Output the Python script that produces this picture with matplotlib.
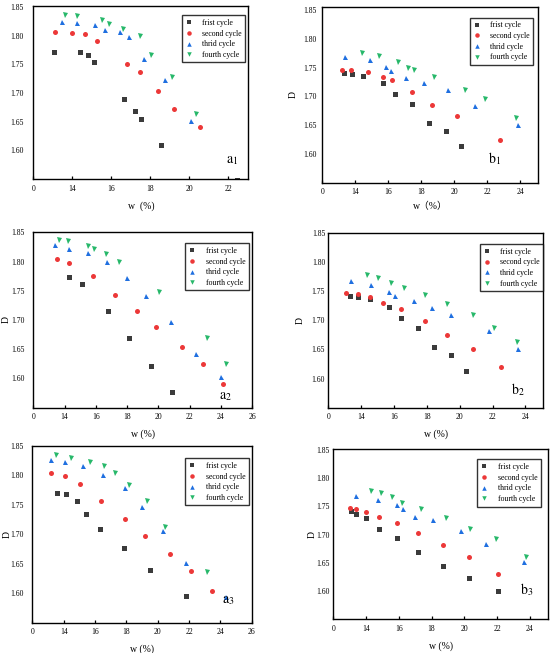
import matplotlib
matplotlib.use("Agg")
import matplotlib.pyplot as plt

plt.rcParams['font.family'] = ['Liberation Serif', 'Noto Sans CJK SC']
plt.rcParams['mathtext.fontset'] = 'stix'

SERIES = ["frist cycle", "second cycle", "thrid cycle", "fourth cycle"]

# ---- panel a1 ----
a1_w1 = [13.06, 14.37, 14.79, 15.10, 16.66, 17.19, 17.53, 18.57, 22.47]
a1_d1 = [1.771, 1.771, 1.766, 1.755, 1.690, 1.668, 1.654, 1.609, 1.549]
a1_w2 = [13.11, 13.97, 14.67, 15.25, 16.80, 17.48, 18.37, 19.22, 20.53]
a1_d2 = [1.806, 1.805, 1.803, 1.791, 1.751, 1.737, 1.704, 1.673, 1.640]
a1_w3 = [13.48, 14.26, 15.15, 15.68, 16.44, 16.90, 17.69, 18.77, 20.10]
a1_d3 = [1.824, 1.823, 1.819, 1.810, 1.807, 1.798, 1.759, 1.723, 1.652]
a1_w4 = [13.63, 14.26, 15.51, 15.90, 16.61, 17.46, 18.04, 19.10, 20.34]
a1_d4 = [1.836, 1.835, 1.827, 1.820, 1.812, 1.800, 1.766, 1.728, 1.664]

# ---- panel b1 ----
b1_w1 = [13.31, 13.82, 14.48, 15.66, 16.40, 17.45, 18.44, 19.47, 20.38]
b1_d1 = [1.741, 1.739, 1.736, 1.723, 1.704, 1.686, 1.654, 1.640, 1.613]
b1_w2 = [13.21, 13.74, 14.77, 15.68, 16.22, 17.43, 18.63, 20.16, 22.75]
b1_d2 = [1.746, 1.746, 1.743, 1.733, 1.728, 1.708, 1.685, 1.666, 1.625]
b1_w3 = [13.39, 14.89, 15.84, 16.18, 17.07, 18.16, 19.64, 21.27, 23.84]
b1_d3 = [1.768, 1.763, 1.751, 1.744, 1.732, 1.724, 1.711, 1.684, 1.651]
b1_w4 = [14.42, 15.45, 16.59, 17.17, 17.56, 18.77, 20.65, 21.84, 23.72]
b1_d4 = [1.775, 1.771, 1.760, 1.750, 1.746, 1.733, 1.712, 1.696, 1.663]

# ---- panel a2 ----
a2_w1 = [14.31, 15.13, 16.75, 18.12, 19.52, 20.87]
a2_d1 = [1.774, 1.761, 1.715, 1.669, 1.622, 1.576]
a2_w2 = [13.52, 14.31, 15.79, 17.22, 18.66, 19.84, 21.53, 22.86, 24.12]
a2_d2 = [1.805, 1.798, 1.776, 1.743, 1.715, 1.688, 1.654, 1.625, 1.590]
a2_w3 = [13.41, 14.31, 15.51, 16.71, 18.02, 19.22, 20.82, 22.41, 23.99]
a2_d3 = [1.829, 1.822, 1.814, 1.799, 1.772, 1.741, 1.697, 1.641, 1.603]
a2_w4 = [13.63, 14.25, 15.49, 15.90, 16.63, 17.48, 20.03, 23.11, 24.36]
a2_d4 = [1.837, 1.835, 1.827, 1.821, 1.812, 1.799, 1.747, 1.669, 1.624]

# ---- panel b2 ----
b2_w1 = [13.33, 13.81, 14.51, 15.68, 16.42, 17.45, 18.45, 19.50, 20.40]
b2_d1 = [1.741, 1.739, 1.736, 1.723, 1.704, 1.687, 1.654, 1.640, 1.613]
b2_w2 = [13.07, 13.79, 14.53, 15.30, 16.40, 17.91, 19.20, 20.82, 22.51]
b2_d2 = [1.747, 1.745, 1.739, 1.730, 1.719, 1.698, 1.675, 1.650, 1.620]
b2_w3 = [13.35, 14.61, 15.70, 16.06, 17.21, 18.31, 19.46, 21.81, 23.54]
b2_d3 = [1.767, 1.761, 1.749, 1.741, 1.733, 1.721, 1.709, 1.681, 1.650]
b2_w4 = [14.35, 15.00, 15.82, 16.60, 17.91, 19.20, 20.80, 22.09, 23.50]
b2_d4 = [1.777, 1.772, 1.763, 1.755, 1.743, 1.727, 1.709, 1.686, 1.663]

# ---- panel a3 ----
a3_w1 = [13.60, 14.17, 14.84, 15.43, 16.29, 17.84, 19.53, 21.81]
a3_d1 = [1.770, 1.768, 1.756, 1.735, 1.709, 1.676, 1.640, 1.596]
a3_w2 = [13.22, 14.09, 15.03, 16.41, 17.88, 19.16, 20.76, 22.11, 23.45]
a3_d2 = [1.804, 1.799, 1.785, 1.757, 1.726, 1.697, 1.666, 1.637, 1.603]
a3_w3 = [13.22, 14.11, 15.22, 16.52, 17.90, 19.01, 20.34, 21.81, 24.35]
a3_d3 = [1.826, 1.822, 1.816, 1.801, 1.778, 1.746, 1.705, 1.652, 1.593]
a3_w4 = [13.51, 14.45, 15.69, 16.54, 17.25, 18.14, 19.33, 20.46, 23.15]
a3_d4 = [1.835, 1.830, 1.822, 1.816, 1.804, 1.783, 1.757, 1.713, 1.636]

# ---- panel b3 ----
b3_w1 = [13.06, 13.41, 14.00, 14.82, 15.88, 17.18, 18.67, 20.27, 22.06]
b3_d1 = [1.741, 1.736, 1.730, 1.710, 1.694, 1.670, 1.644, 1.624, 1.600]
b3_w2 = [13.04, 13.41, 14.00, 14.80, 15.90, 17.18, 18.67, 20.27, 22.06]
b3_d2 = [1.747, 1.745, 1.740, 1.732, 1.720, 1.702, 1.681, 1.660, 1.631]
b3_w3 = [13.41, 14.76, 15.90, 16.24, 16.98, 18.06, 19.78, 21.35, 23.65]
b3_d3 = [1.768, 1.762, 1.753, 1.745, 1.731, 1.725, 1.707, 1.684, 1.652]
b3_w4 = [14.31, 14.92, 15.57, 16.18, 17.37, 18.90, 20.37, 21.92, 23.78]
b3_d4 = [1.778, 1.774, 1.766, 1.756, 1.745, 1.730, 1.710, 1.693, 1.660]

YTICKS = [1.60, 1.65, 1.70, 1.75, 1.80, 1.85]
YTICKLABELS = ["1.60", "1.65", "1.70", "1.75", "1.80", "1.85"]
XTICKS_A1 = [12, 14, 16, 18, 20, 22]
XTICKS_B = [12, 14, 16, 18, 20, 22, 24]
XTICKS_A23 = [12, 14, 16, 18, 20, 22, 24, 26]
XLAB = {12: "0"}

MARKERS = ['s', 'o', '^', 'v']
COLORS = ['#3b3b3b', '#ec3838', '#1f6fe0', '#27b86a']

fig = plt.figure(figsize=(5.5, 6.53), dpi=100)

panels = [
    # letter, sub, rect, xlim, xticks, data, ylabel, ylabel_x, xlabel,
    # xlabel_y, legend anchor, tag pos, ytop, ytick pad
    ("a", "1", [0.0606, 0.7259, 0.391, 0.265], (12, 23.03), XTICKS_A1,
     [(a1_w1, a1_d1), (a1_w2, a1_d2), (a1_w3, a1_d3), (a1_w4, a1_d4)],
     None, None, "w  (%)", -0.13, (0.986, 0.946), (0.925, 0.07), 1.852, 7.0),
    ("b", "1", [0.586, 0.7202, 0.3916, 0.2695], (12, 25.05), XTICKS_B,
     [(b1_w1, b1_d1), (b1_w2, b1_d2), (b1_w3, b1_d3), (b1_w4, b1_d4)],
     "D", -0.114, "w（%）", -0.11, (0.98, 0.9375), (0.80, 0.09), 1.856, 4.0),
    ("a", "2", [0.0606, 0.3757, 0.3976, 0.2686], (12, 26), XTICKS_A23,
     [(a2_w1, a2_d1), (a2_w2, a2_d2), (a2_w3, a2_d3), (a2_w4, a2_d4)],
     "D", -0.104, "w (%)", -0.123, (0.985, 0.937), (0.88, 0.027), 1.85, 6.6),
    ("b", "2", [0.597, 0.3757, 0.391, 0.268], (12, 25.1), XTICKS_B,
     [(b2_w1, b2_d1), (b2_w2, b2_d2), (b2_w3, b2_d3), (b2_w4, b2_d4)],
     "D", -0.112, "w (%)", -0.123, (1.0, 0.934), (0.88, 0.057), 1.85, 2.4),
    ("a", "3", [0.0588, 0.0464, 0.399, 0.271], (12, 26), XTICKS_A23,
     [(a3_w1, a3_d1), (a3_w2, a3_d2), (a3_w3, a3_d3), (a3_w4, a3_d4)],
     "D", -0.095, "w (%)", -0.122, (0.986, 0.929), (0.893, 0.09), 1.85, 6.4),
    ("b", "3", [0.606, 0.0516, 0.390, 0.2603], (12, 25.1), XTICKS_B,
     [(b3_w1, b3_d1), (b3_w2, b3_d2), (b3_w3, b3_d3), (b3_w4, b3_d4)],
     "D", -0.079, "w (%)", -0.128, (0.967, 0.941), (0.90, 0.124), 1.851, 2.4),
]

for (letter, sub, rect, xlim, xticks, data, ylab, ylx, xlab, xly,
     leg_anchor, tag, ytop, ypad) in panels:
    ax = fig.add_axes(rect)
    for (w, d), m, c, name in zip(data, MARKERS, COLORS, SERIES):
        ax.plot(w, d, linestyle='none', marker=m, color=c, markersize=3.6,
                markeredgewidth=0, label=name)
    ax.set_xlim(*xlim)
    ax.set_ylim(1.55, ytop)
    ax.set_xticks(xticks)
    ax.set_xticklabels([XLAB.get(t, str(t)) for t in xticks])
    ax.set_yticks(YTICKS)
    ax.set_yticklabels(YTICKLABELS)
    ax.tick_params(axis='x', direction='in', length=2.2, width=0.9,
                   labelsize=5.5, pad=4)
    ax.tick_params(axis='y', length=0, labelsize=5.5, pad=ypad)
    for sp in ax.spines.values():
        sp.set_linewidth(1.0)
        sp.set_color('black')
    if ylab:
        ax.set_ylabel(ylab, fontsize=7)
        ax.yaxis.set_label_coords(ylx, 0.5)
    ax.set_xlabel(xlab, fontsize=7)
    ax.xaxis.set_label_coords(0.5, xly)
    leg = ax.legend(loc='upper right', bbox_to_anchor=leg_anchor,
                    borderaxespad=0, fontsize=5.6, frameon=True,
                    fancybox=False, edgecolor='black', handlelength=1.0,
                    handletextpad=1.2, labelspacing=0.35, borderpad=0.45,
                    markerscale=0.9)
    leg.get_frame().set_linewidth(1.0)
    ax.text(tag[0], tag[1], r'$\mathrm{' + letter + r'}_{\mathrm{' + sub + r'}}$',
            transform=ax.transAxes, fontsize=10, ha='center', va='bottom')

fig.savefig("out.png", dpi=100)
